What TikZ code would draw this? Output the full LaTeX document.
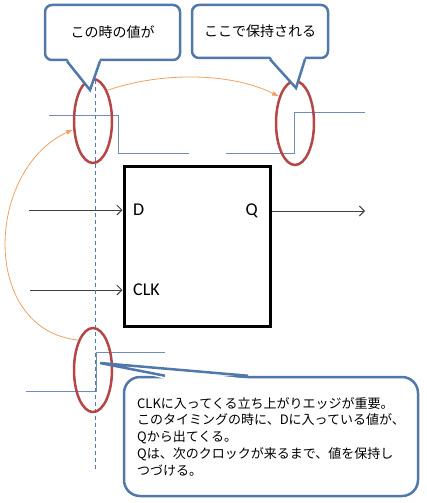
\documentclass[tikz,border=0pt]{standalone}
\usepackage{fontspec}
\setmainfont{Carlito}
\newfontfamily\jpfont{Noto Sans CJK JP}
\usetikzlibrary{shapes.geometric,arrows.meta,calc}
\definecolor{bubbleblue}{RGB}{80,120,170}
\definecolor{waveblue}{RGB}{110,140,190}
\definecolor{probeblue}{RGB}{85,120,175}
\definecolor{ringred}{RGB}{180,70,70}
\definecolor{flowor}{RGB}{240,160,96}
\begin{document}
\begin{tikzpicture}[x=1pt,y=-1pt,
    ffbox/.style={draw,line width=3pt,minimum width=146pt,minimum height=160pt},
    pinlabel/.style={inner sep=0pt,font=\fontsize{18}{18}\selectfont},
    sig/.style={draw=black!75,line width=0.9pt,-{Straight Barb[length=5pt,width=10pt]}},
    wave/.style={draw=waveblue,line width=1pt},
    probe/.style={draw=probeblue,line width=0.8pt,dash pattern=on 4pt off 3pt},
    ring/.style={draw=ringred,line width=2.5pt,ellipse,inner sep=0pt,minimum width=38pt,minimum height=84pt},
    flow/.style={draw=flowor,line width=0.8pt,-{Latex[length=7pt,width=5pt]}},
    bubble/.style={draw=bubbleblue,line width=2.5pt,fill=white,rounded corners=7pt,font=\jpfont\fontsize{13}{16.7}\selectfont},
    tail/.style={draw=bubbleblue,line width=2.5pt}]
  \useasboundingbox (0,0) rectangle (426,503);

  \node[ffbox] (ff) at (197,246) {};
  \node[pinlabel,anchor=west] (d) at (133,210) {D};
  \node[pinlabel,anchor=east] (q) at (258,211) {Q};
  \node[pinlabel,anchor=west] (clk) at (133,290) {CLK};

  \coordinate (din) at (29,210);
  \coordinate (clkin) at (30,290);
  \coordinate (qout) at (365,211);
  \draw[sig] (din) -- (din -| ff.west);
  \draw[sig] (clkin) -- (clkin -| ff.west);
  \draw[sig] (qout -| ff.east) -- (qout);

  \draw[wave] (49,115) -- (118,115) -- (118,153) -- (189,153);
  \draw[wave] (226,153) -- (294,153) -- (294,112) -- (365,112);
  \draw[wave] (26,391) -- (96,391) -- (96,352) -- (165,352);

  \coordinate (probetop) at (95,80);
  \coordinate (probebot) at (95,470);
  \draw[probe] (probetop) -- (probebot);

  \node[ring] (dring) at (93,121) {};
  \node[ring] (qring) at (295,123) {};
  \node[ring] (cring) at (93,370) {};

  \draw[flow] (dring.65) .. controls (160,72) and (230,72) .. (qring.121);
  \draw[flow] (cring.116) .. controls (-20,330) and (-15,170) .. (dring.203);

  \node[bubble,font=\jpfont\fontsize{14}{16}\selectfont,minimum width=135pt,minimum height=55pt] (when) at (112.5,32.5) {この時の値が};
  \coordinate (whentip) at (90,90);
  \fill[white] ($(when.south)+(-45.5,-3)$) -- (whentip) -- ($(when.south)+(-12.5,-3)$) -- cycle;
  \draw[tail] ($(when.south)+(-45.5,0)$) -- (whentip) -- ($(when.south)+(-12.5,0)$);

  \node[bubble,font=\jpfont\fontsize{14}{16}\selectfont,minimum width=136pt,minimum height=53pt] (hold) at (260,31.5) {ここで保持される};
  \coordinate (holdtip) at (296,88);
  \fill[white] ($(hold.south)+(10,-3)$) -- (holdtip) -- ($(hold.south)+(45,-3)$) -- cycle;
  \draw[tail] ($(hold.south)+(10,0)$) -- (holdtip) -- ($(hold.south)+(45,0)$);

  \node[bubble,rounded corners=16pt,align=left,minimum width=294pt,minimum height=119pt] (note) at (271,436.5)
    {CLKに入ってくる立ち上がりエッジが重要。\\このタイミングの時に、Dに入っている値が、\\Qから出てくる。\\Qは、次のクロックが来るまで、値を保持し\\つづける。};
  \coordinate (notetip) at (100,363);
  \fill[white] ($(note.north)+(-106,3)$) -- (notetip) -- ($(note.north)+(-23,3)$) -- cycle;
  \draw[tail] ($(note.north)+(-106,0)$) -- (notetip) -- ($(note.north)+(-23,0)$);
\end{tikzpicture}
\end{document}
